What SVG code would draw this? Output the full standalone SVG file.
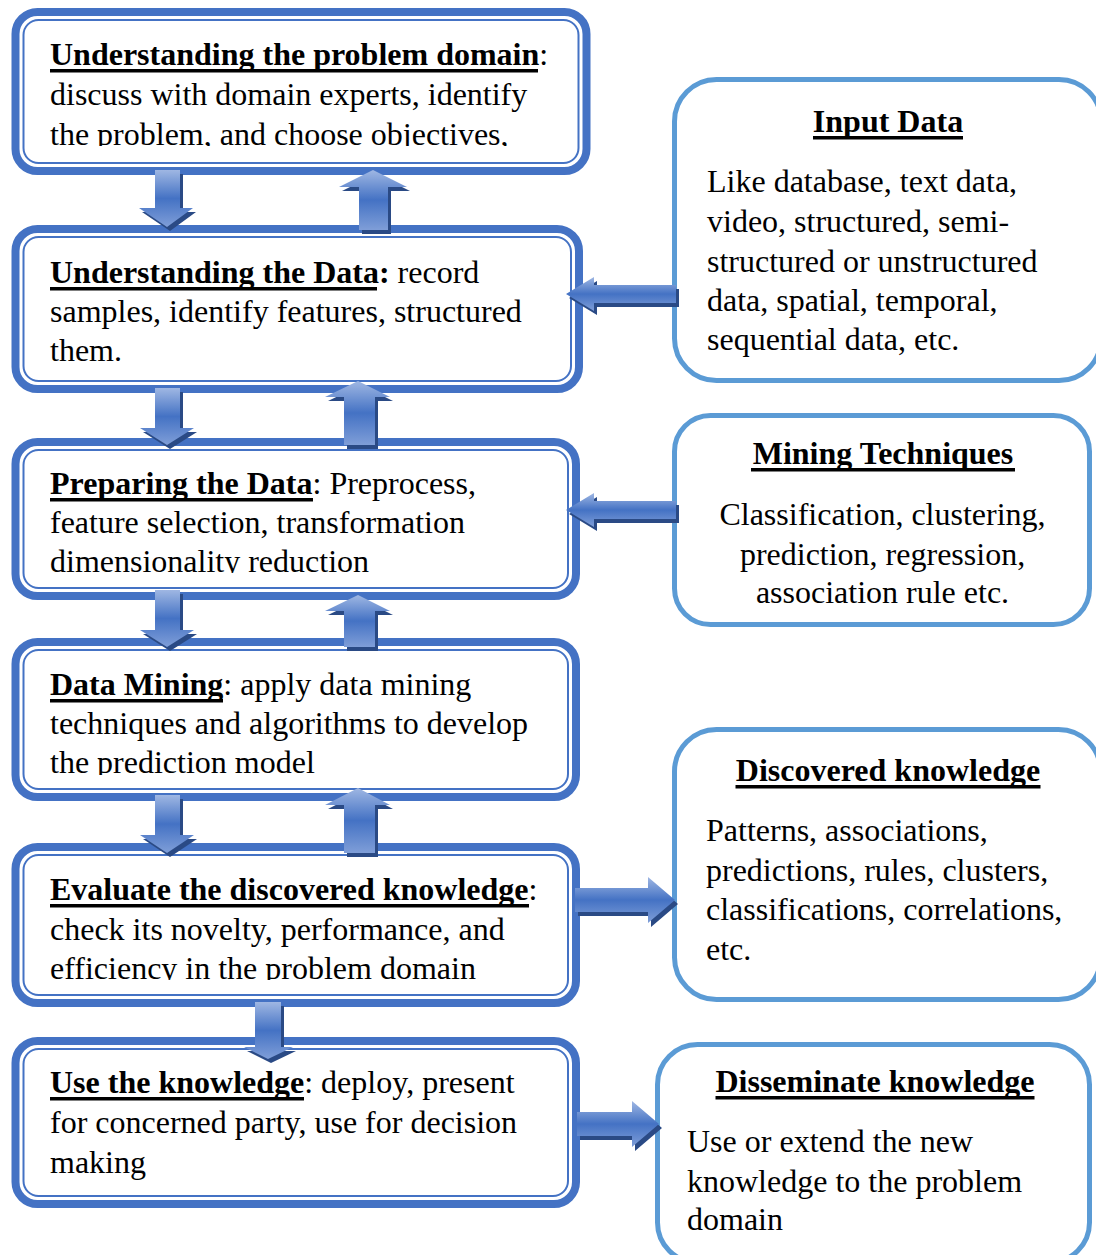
<svg xmlns="http://www.w3.org/2000/svg" width="1096" height="1255" viewBox="0 0 1096 1255">
  <style>
    .t { font-family: "Liberation Serif", "Times New Roman", serif; font-size: 32px; fill: #000; }
    .b { font-weight: bold; }
    .ul { fill: #000; }
    .outer { fill: #fff; stroke: #4472C4; stroke-width: 8; }
    .inner { fill: none; stroke: #4472C4; stroke-width: 2; }
    .side { fill: #fff; stroke: #5B9BD5; stroke-width: 5; }
    .arrow { fill: url(#arrowFill); }
    .shadow { fill: #2A4A85; }
  </style>
  <defs>
    <linearGradient id="arrowFill" x1="0" y1="0" x2="0" y2="1">
      <stop offset="0" stop-color="#9FB7E3"/>
      <stop offset="0.5" stop-color="#4472C4"/>
      <stop offset="1" stop-color="#7F9ED8"/>
    </linearGradient>
    <clipPath id="clip1"><rect x="20" y="20" width="560" height="126"/></clipPath>
    <clipPath id="clip3"><rect x="20" y="446" width="550" height="127"/></clipPath>
    <clipPath id="clip4"><rect x="20" y="646" width="550" height="129"/></clipPath>
    <clipPath id="clip5"><rect x="20" y="851" width="550" height="129"/></clipPath>
  </defs>

  <rect width="1096" height="1255" fill="#fff"/>

  <!-- process steps (left column) -->
  <g id="step-problem-domain">
    <rect class="outer" x="15.5" y="12" width="571" height="159" rx="22"/>
    <rect class="inner" x="23.5" y="20" width="555" height="143" rx="15"/>
    <g clip-path="url(#clip1)">
      <text class="t" x="50" y="65"><tspan class="b">Understanding the problem domain</tspan>:</text>
      <text class="t" x="50" y="105">discuss with domain experts, identify</text>
      <text class="t" x="50" y="145">the problem, and choose objectives,</text>
    </g>
    <rect class="ul" x="50" y="69" width="488" height="3.5"/>
  </g>

  <g id="step-understand-data">
    <rect class="outer" x="15.5" y="229" width="563.5" height="160" rx="22"/>
    <rect class="inner" x="23.5" y="237" width="547.5" height="144" rx="15"/>
    <text class="t" x="50" y="283"><tspan class="b">Understanding the Data:</tspan> record</text>
    <text class="t" x="50" y="322">samples, identify features, structured</text>
    <text class="t" x="50" y="361">them.</text>
    <rect class="ul" x="50" y="287" width="327" height="3.5"/>
  </g>

  <g id="step-prepare-data">
    <rect class="outer" x="15.5" y="442" width="560.5" height="154" rx="22"/>
    <rect class="inner" x="23.5" y="450" width="544.5" height="138" rx="15"/>
    <g clip-path="url(#clip3)">
      <text class="t" x="50" y="494"><tspan class="b">Preparing the Data</tspan>: Preprocess,</text>
      <text class="t" x="50" y="533">feature selection, transformation</text>
      <text class="t" x="50" y="572">dimensionality reduction</text>
    </g>
    <rect class="ul" x="50" y="498" width="263" height="3.5"/>
  </g>

  <g id="step-data-mining">
    <rect class="outer" x="15.5" y="642" width="560.5" height="155" rx="22"/>
    <rect class="inner" x="23.5" y="650" width="544.5" height="139" rx="15"/>
    <g clip-path="url(#clip4)">
      <text class="t" x="50" y="695"><tspan class="b">Data Mining</tspan>: apply data mining</text>
      <text class="t" x="50" y="734">techniques and algorithms to develop</text>
      <text class="t" x="50" y="773">the prediction model</text>
    </g>
    <rect class="ul" x="50" y="699" width="173" height="3.5"/>
  </g>

  <g id="step-evaluate">
    <rect class="outer" x="15.5" y="847" width="560.5" height="156" rx="22"/>
    <rect class="inner" x="23.5" y="855" width="544.5" height="140" rx="15"/>
    <g clip-path="url(#clip5)">
      <text class="t" x="50" y="900"><tspan class="b">Evaluate the discovered knowledge</tspan>:</text>
      <text class="t" x="50" y="940">check its novelty, performance, and</text>
      <text class="t" x="50" y="979">efficiency in the problem domain</text>
    </g>
    <rect class="ul" x="50" y="904" width="479" height="3.5"/>
  </g>

  <g id="step-use-knowledge">
    <rect class="outer" x="15.5" y="1041" width="560.5" height="163" rx="22"/>
    <rect class="inner" x="23.5" y="1049" width="544.5" height="147" rx="15"/>
    <text class="t" x="50" y="1093"><tspan class="b">Use the knowledge</tspan>: deploy, present</text>
    <text class="t" x="50" y="1133">for concerned party, use for decision</text>
    <text class="t" x="50" y="1173">making</text>
    <rect class="ul" x="50" y="1097" width="254" height="3.5"/>
  </g>

  <!-- side panels (right column) -->
  <g id="input-data">
    <rect class="side" x="674.5" y="79.5" width="426.5" height="301" rx="42"/>
    <text class="t b" x="888" y="132" text-anchor="middle">Input Data</text>
    <rect class="ul" x="813" y="136" width="150" height="3.5"/>
    <text class="t" x="707" y="192">Like database, text data,</text>
    <text class="t" x="707" y="232">video, structured, semi-</text>
    <text class="t" x="707" y="272">structured or unstructured</text>
    <text class="t" x="707" y="311">data, spatial, temporal,</text>
    <text class="t" x="707" y="350">sequential data, etc.</text>
  </g>

  <g id="mining-techniques">
    <rect class="side" x="674.5" y="415.5" width="415" height="209" rx="36"/>
    <text class="t b" x="883" y="464" text-anchor="middle">Mining Techniques</text>
    <rect class="ul" x="751" y="468" width="264" height="3.5"/>
    <text class="t" x="882.5" y="525" text-anchor="middle">Classification, clustering,</text>
    <text class="t" x="882.5" y="565" text-anchor="middle">prediction, regression,</text>
    <text class="t" x="882.5" y="603" text-anchor="middle">association rule etc.</text>
  </g>

  <g id="discovered-knowledge">
    <rect class="side" x="674.5" y="729.5" width="426" height="270" rx="42"/>
    <text class="t b" x="888" y="781" text-anchor="middle">Discovered knowledge</text>
    <rect class="ul" x="735.5" y="785" width="305" height="3.5"/>
    <text class="t" x="706" y="841">Patterns, associations,</text>
    <text class="t" x="706" y="881">predictions, rules, clusters,</text>
    <text class="t" x="706" y="920">classifications, correlations,</text>
    <text class="t" x="706" y="960">etc.</text>
  </g>

  <g id="disseminate-knowledge">
    <rect class="side" x="657.5" y="1044.5" width="432" height="218" rx="40"/>
    <text class="t b" x="875" y="1092" text-anchor="middle">Disseminate knowledge</text>
    <rect class="ul" x="715.5" y="1096" width="319" height="3.5"/>
    <text class="t" x="687" y="1152">Use or extend the new</text>
    <text class="t" x="687" y="1192">knowledge to the problem</text>
    <text class="t" x="687" y="1230">domain</text>
  </g>

  <!-- block arrows between steps and panels -->
  <g id="connectors">
    <!-- down: problem domain -> data -->
    <path class="shadow" transform="translate(3,4)" d="M155 170H180V208H193L167 227L139 208H155Z"/>
    <path class="arrow" d="M155 170H180V208H193L167 227L139 208H155Z"/>
    <!-- up: data -> problem domain -->
    <path class="shadow" transform="translate(3,4)" d="M373 170L407 187H388V230H359V187H339Z"/>
    <path class="arrow" d="M373 170L407 187H388V230H359V187H339Z"/>

    <!-- down: data -> preparing -->
    <path class="shadow" transform="translate(3,4)" d="M155 388H180V428H194L167 445L140 428H155Z"/>
    <path class="arrow" d="M155 388H180V428H194L167 445L140 428H155Z"/>
    <!-- up: preparing -> data -->
    <path class="shadow" transform="translate(3,4)" d="M358 381L390 397H375V445H344V397H325Z"/>
    <path class="arrow" d="M358 381L390 397H375V445H344V397H325Z"/>

    <!-- down: preparing -> mining -->
    <path class="shadow" transform="translate(3,4)" d="M155 590H180V630H194L167 647L140 630H155Z"/>
    <path class="arrow" d="M155 590H180V630H194L167 647L140 630H155Z"/>
    <!-- up: mining -> preparing -->
    <path class="shadow" transform="translate(3,4)" d="M358 595L390 611H375V647H344V611H325Z"/>
    <path class="arrow" d="M358 595L390 611H375V647H344V611H325Z"/>

    <!-- down: mining -> evaluate -->
    <path class="shadow" transform="translate(3,4)" d="M155 795H180V835H194L167 853L140 835H155Z"/>
    <path class="arrow" d="M155 795H180V835H194L167 853L140 835H155Z"/>
    <!-- up: evaluate -> mining -->
    <path class="shadow" transform="translate(3,4)" d="M358 788L390 805H375V853H344V805H325Z"/>
    <path class="arrow" d="M358 788L390 805H375V853H344V805H325Z"/>

    <!-- down: evaluate -> use -->
    <path class="shadow" transform="translate(3,4)" d="M255 1002H281V1047H293L268 1059L244 1047H255Z"/>
    <path class="arrow" d="M255 1002H281V1047H293L268 1059L244 1047H255Z"/>

    <!-- left: input data -> understanding data -->
    <path class="shadow" transform="translate(3,4)" d="M676 285V303H594V311L566 294L594 277V285Z"/>
    <path class="arrow" d="M676 285V303H594V311L566 294L594 277V285Z"/>
    <!-- left: mining techniques -> preparing -->
    <path class="shadow" transform="translate(3,4)" d="M676 501V519H594V527L566 510L594 493V501Z"/>
    <path class="arrow" d="M676 501V519H594V527L566 510L594 493V501Z"/>

    <!-- right: evaluate -> discovered knowledge -->
    <path class="shadow" transform="translate(3,4)" d="M575 888H648V877L675 900L648 923V912H575Z"/>
    <path class="arrow" d="M575 888H648V877L675 900L648 923V912H575Z"/>
    <!-- right: use -> disseminate -->
    <path class="shadow" transform="translate(3,4)" d="M577 1112H632V1101L659 1124L632 1147V1136H577Z"/>
    <path class="arrow" d="M577 1112H632V1101L659 1124L632 1147V1136H577Z"/>
  </g>
</svg>
